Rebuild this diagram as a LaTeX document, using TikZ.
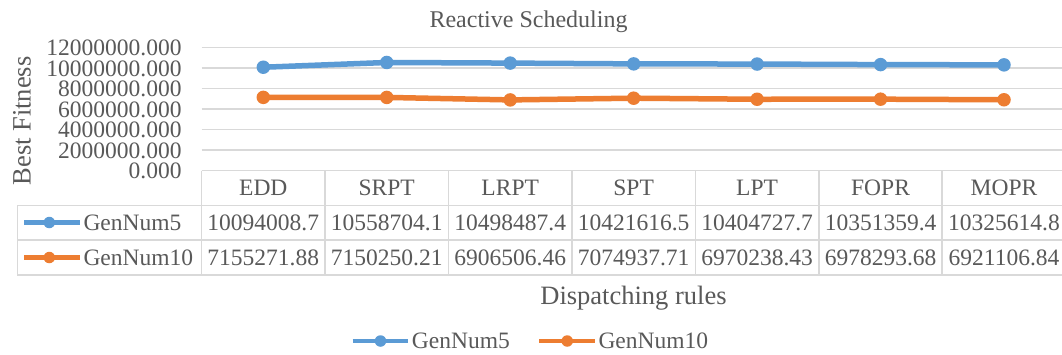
\documentclass[tikz,border=0pt]{standalone}
\usepackage{fontspec}
\setmainfont{Liberation Serif}
\definecolor{sblue}{HTML}{5B9BD5}
\definecolor{sorange}{HTML}{ED7D31}
\definecolor{gridgray}{HTML}{D9D9D9}
\definecolor{ink}{HTML}{595959}

\begin{document}
\begin{tikzpicture}[x=1pt,y=-1pt,
  lbl/.style={font=\fontsize{23.5}{28}\selectfont, text=ink, inner sep=0pt},
  axtitle/.style={font=\fontsize{26.5}{31}\selectfont, text=ink, inner sep=0pt},
  gridline/.style={draw=gridgray, line width=1.5pt},
  series/.style={line width=5.5pt, line join=round},
  keyline/.style={line width=4.5pt},
  dot/.style={circle, fill=#1, inner sep=0pt, minimum size=13.5pt},
  keydot/.style={circle, fill=#1, inner sep=0pt, minimum size=11.5pt}]
\useasboundingbox (0,0) rectangle (1062,354);
\fill[white] (0,0) rectangle (1062,354);

% title
\node[lbl, font=\fontsize{24}{29}\selectfont, anchor=base] (title) at (528.5,27.7) {Reactive Scheduling};

% value axis: gridlines and tick labels
\foreach \v [count=\k from 0] in {12000000.000,10000000.000,8000000.000,6000000.000,4000000.000,2000000.000}
  \draw[gridline] (201.7,{47.7+20.5*\k}) -- (1062,{47.7+20.5*\k});
\foreach \v [count=\k from 0] in {12000000.000,10000000.000,8000000.000,6000000.000,4000000.000,2000000.000,0.000}
  \node[lbl, anchor=east] (tick\k) at (181.7,{48.2+20.5*\k}) {\v};
\node[axtitle, rotate=90] (ytitle) at (22,121) {Best Fitness};

% data table grid
\draw[gridline] (201.7,170.7) -- (1062,170.7);
\foreach \y in {205.3,240,275}
  \draw[gridline] (17.3,\y) -- (1062,\y);
\draw[gridline] (17.3,205.3) -- (17.3,275);
\foreach \x in {201.7,325,448.5,572,695.4,818.8,942.2}
  \draw[gridline] (\x,170.7) -- (\x,275);

% categories, values (also in millions, for plotting) and series points
\foreach \c/\a/\am/\b/\bm [count=\i] in {
  EDD/10094008.7/10.0940087/7155271.88/7.15527188,
  SRPT/10558704.1/10.5587041/7150250.21/7.15025021,
  LRPT/10498487.4/10.4984874/6906506.46/6.90650646,
  SPT/10421616.5/10.4216165/7074937.71/7.07493771,
  LPT/10404727.7/10.4047277/6970238.43/6.97023843,
  FOPR/10351359.4/10.3513594/6978293.68/6.97829368,
  MOPR/10325614.8/10.3256148/6921106.84/6.92110684}{
  \pgfmathsetmacro{\cx}{263.3+123.45*(\i-1)}
  \node[lbl, anchor=base] (cat\i) at (\cx,195.5) {\c};
  \node[lbl, anchor=base] (va\i) at (\cx,230.2) {\a};
  \node[lbl, anchor=base] (vb\i) at (\cx,265) {\b};
  \pgfmathsetmacro{\ya}{170.7-10.25*\am}
  \pgfmathsetmacro{\yb}{170.7-10.25*\bm}
  \coordinate (pa\i) at (\cx,\ya);
  \coordinate (pb\i) at (\cx,\yb);
}

% series lines and markers
\draw[series, sblue] (pa1) -- (pa2) -- (pa3) -- (pa4) -- (pa5) -- (pa6) -- (pa7);
\draw[series, sorange] (pb1) -- (pb2) -- (pb3) -- (pb4) -- (pb5) -- (pb6) -- (pb7);
\foreach \i in {1,...,7}{
  \node[dot=sblue] (ma\i) at (pa\i) {};
  \node[dot=sorange] (mb\i) at (pb\i) {};
}

% legend keys inside the table
\coordinate (ka0) at (24,222.5);  \coordinate (ka1) at (80,222.5);
\coordinate (kb0) at (24,257.5);  \coordinate (kb1) at (80,257.5);
\draw[keyline, sblue] (ka0) -- (ka1);
\draw[keyline, sorange] (kb0) -- (kb1);
\node[keydot=sblue] (kad) at (49.3,222.5) {};
\node[keydot=sorange] (kbd) at (49.3,257.5) {};
\node[lbl, anchor=base west] (kat) at (83.3,230.2) {GenNum5};
\node[lbl, anchor=base west] (kbt) at (83.3,265) {GenNum10};

% category axis title
\node[axtitle, anchor=base] (xtitle) at (633.5,304.3) {Dispatching rules};

% legend
\coordinate (la0) at (352.7,341); \coordinate (la1) at (408.3,341);
\coordinate (lb0) at (539.3,341); \coordinate (lb1) at (595,341);
\draw[keyline, sblue] (la0) -- (la1);
\draw[keyline, sorange] (lb0) -- (lb1);
\node[keydot=sblue] (lad) at (380.5,341) {};
\node[keydot=sorange] (lbd) at (567.2,341) {};
\node[lbl, anchor=base west] (lat) at (411.7,348.8) {GenNum5};
\node[lbl, anchor=base west] (lbt) at (598.3,348.8) {GenNum10};
\end{tikzpicture}
\end{document}
